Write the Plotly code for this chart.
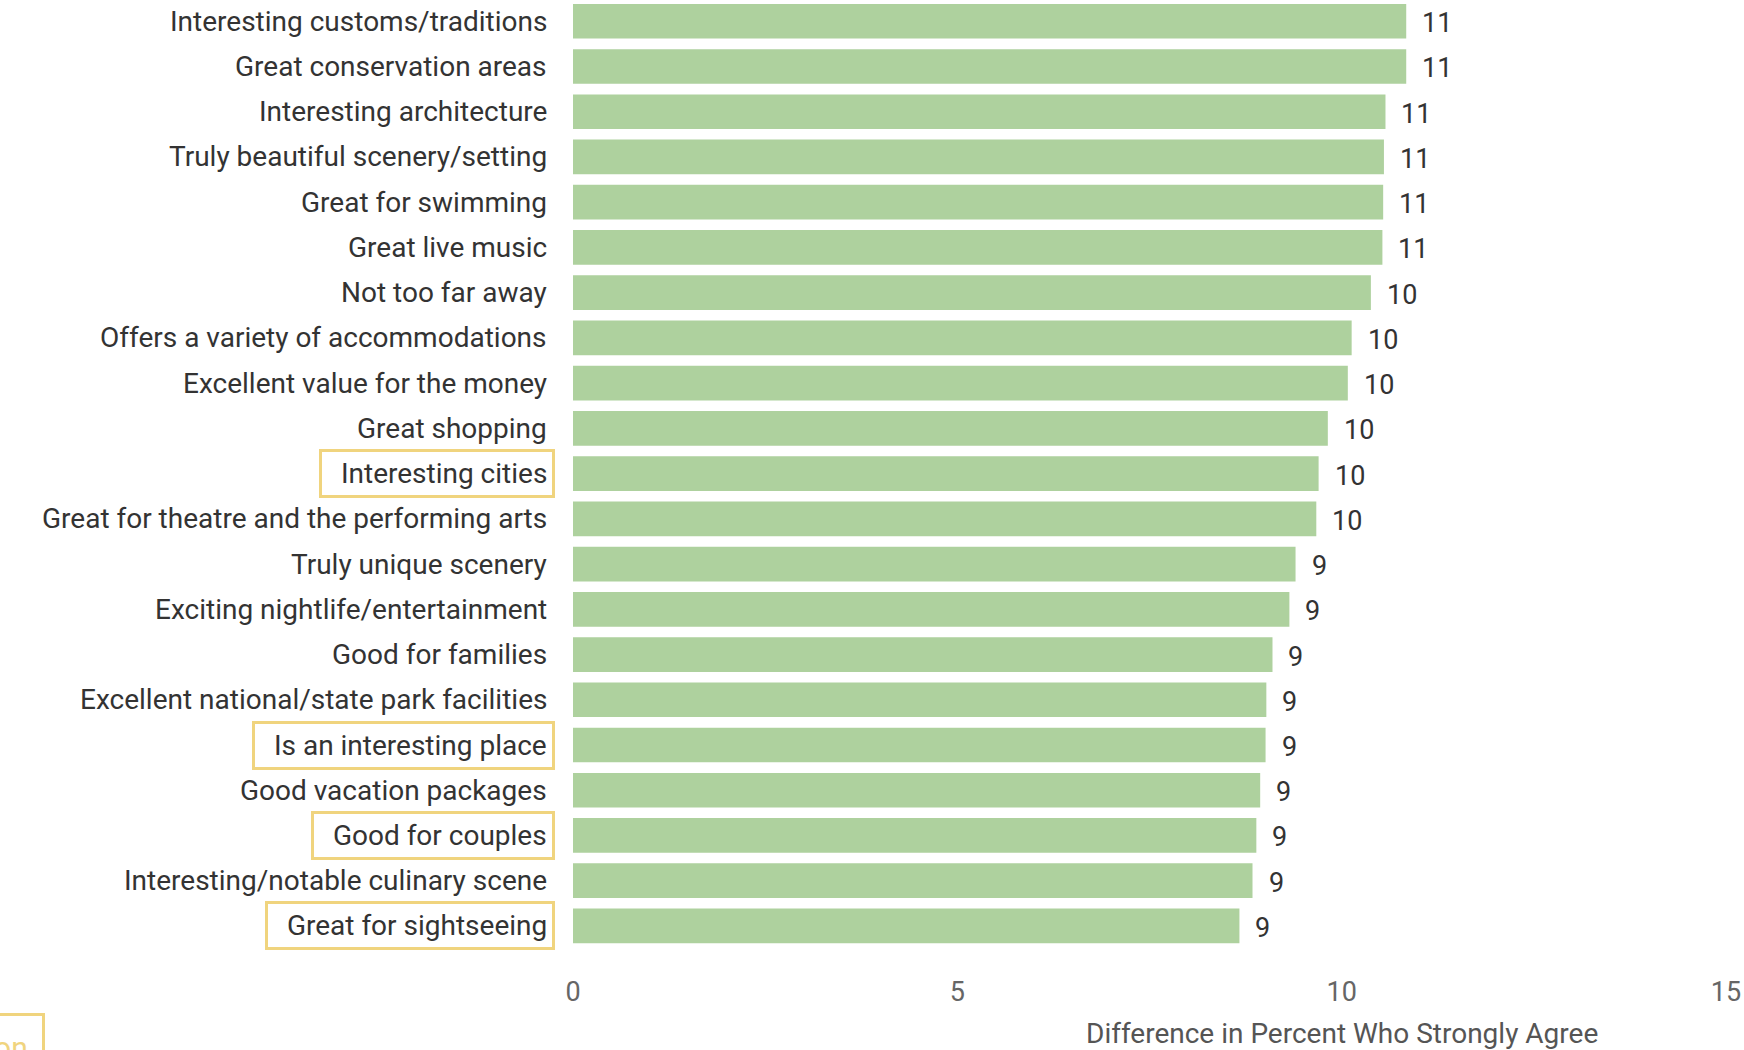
import plotly.graph_objects as go

# Attributes, top to bottom
attributes = [
    "Interesting customs/traditions",
    "Great conservation areas",
    "Interesting architecture",
    "Truly beautiful scenery/setting",
    "Great for swimming",
    "Great live music",
    "Not too far away",
    "Offers a variety of accommodations",
    "Excellent value for the money",
    "Great shopping",
    "Interesting cities",
    "Great for theatre and the performing arts",
    "Truly unique scenery",
    "Exciting nightlife/entertainment",
    "Good for families",
    "Excellent national/state park facilities",
    "Is an interesting place",
    "Good vacation packages",
    "Good for couples",
    "Interesting/notable culinary scene",
    "Great for sightseeing",
]

# Difference in percent who strongly agree
differences = [
    10.84, 10.84, 10.57, 10.55, 10.54, 10.53, 10.38, 10.13, 10.08, 9.82, 9.70,
    9.67, 9.40, 9.32, 9.10, 9.02, 9.01, 8.94, 8.89, 8.84, 8.67,
]

# Attributes called out with a box
highlighted = [
    "Interesting cities",
    "Is an interesting place",
    "Good for couples",
    "Great for sightseeing",
]

x_ticks = [0, 5, 10, 15]
x_title = "Difference in Percent Who Strongly Agree"
corner_label = "Comparison"

BAR_GREEN = "#AED19E"
GOLD = "#F0D47E"
TEXT = "#333333"
FONT = "Roboto"
NBSP = "\u00a0"

fig = go.Figure(
    go.Bar(
        x=differences,
        y=attributes,
        orientation="h",
        marker=dict(color=BAR_GREEN, line=dict(width=0)),
        width=0.767,
        hoverinfo="skip",
    )
)

annotations = []

# Category labels (boxed when highlighted, with extra room on the left)
for name in attributes:
    boxed = name in highlighted
    annotations.append(
        dict(
            x=0, xref="paper", y=name, yref="y",
            text=(NBSP * 2 + name) if boxed else name,
            showarrow=False,
            xanchor="right", yanchor="middle", xshift=-18,
            font=dict(family=FONT, size=28, color=TEXT),
            bordercolor=GOLD if boxed else "rgba(0,0,0,0)",
            borderwidth=3, borderpad=5,
        )
    )

# Value labels beside each bar
for name, val in zip(attributes, differences):
    annotations.append(
        dict(
            x=val, xref="x", y=name, yref="y",
            text=f"{val:.0f}", showarrow=False,
            xanchor="left", yanchor="middle", xshift=14, yshift=-2,
            font=dict(family=FONT, size=27, color=TEXT),
        )
    )

# Axis title centred under the 10 tick
annotations.append(
    dict(
        x=10, xref="x", y=0, yref="paper",
        text=x_title, showarrow=False,
        xanchor="center", yanchor="middle", yshift=-84,
        font=dict(family=FONT, size=28, color="#555555"),
    )
)

# Boxed label in the lower-left corner
annotations.append(
    dict(
        x=0, xref="paper", y=0, yref="paper",
        text=corner_label, showarrow=False,
        xanchor="right", yanchor="top", xshift=-528, yshift=-64,
        font=dict(family=FONT, size=30, color=GOLD),
        bordercolor=GOLD, borderwidth=3, borderpad=14,
    )
)

fig.update_layout(
    width=1744,
    height=1050,
    margin=dict(l=573, r=18, t=0, b=101),
    paper_bgcolor="white",
    plot_bgcolor="white",
    showlegend=False,
    annotations=annotations,
    xaxis=dict(
        range=[0, 15],
        tickvals=x_ticks,
        ticktext=[str(t) for t in x_ticks],
        showgrid=False,
        zeroline=False,
        showline=False,
        ticks="",
        ticklabelstandoff=24,
        tickfont=dict(family=FONT, size=27, color="#666666"),
    ),
    yaxis=dict(
        categoryorder="array",
        categoryarray=attributes,
        range=[20.51, -0.47],
        showticklabels=False,
        showgrid=False,
        zeroline=False,
        showline=False,
        ticks="",
    ),
)

fig.write_html("out.html")
